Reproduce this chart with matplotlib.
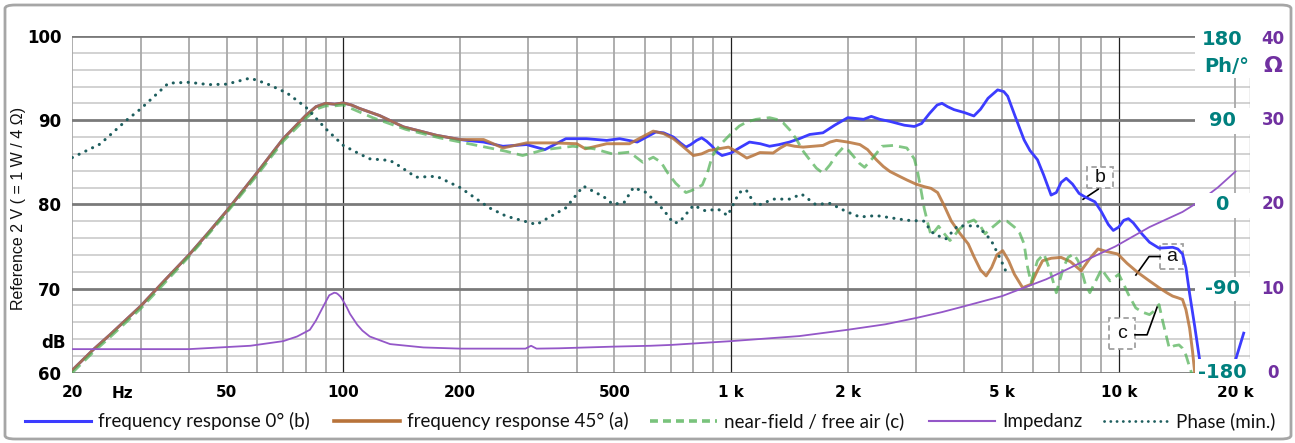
import matplotlib
matplotlib.use("Agg")
import matplotlib.pyplot as plt
from matplotlib.lines import Line2D
from matplotlib.patches import Rectangle, FancyBboxPatch
import matplotlib.transforms as mtransforms

W, H, DPI = 1295, 443, 100

# ---------------- data ----------------
low_f = [20, 22.6, 25, 30, 35, 40, 45, 50, 60, 70, 80, 85, 90, 95, 100, 105, 110, 124, 143, 161, 174]
low_db = [60.3, 62.7, 64.5, 67.9, 71.2, 74.0, 76.7, 79.2, 83.8, 87.8, 90.55, 91.6, 92.0, 91.9, 92.05, 91.8, 91.4, 90.55, 89.2, 88.6, 88.2]

blue_hi_f = [200, 208, 230, 258, 297, 331, 375, 424, 478, 516, 573, 640, 670, 710, 740, 765, 787, 815, 840, 865, 894,
             920, 948, 1000, 1050, 1116, 1190, 1257, 1330, 1415, 1500, 1595, 1726, 1850, 2000, 2100, 2196, 2300,
             2420, 2570, 2800, 2970, 3100, 3250, 3400, 3500, 3620, 3760, 4000, 4230, 4400, 4600, 4870, 5050,
             5170, 5400, 5700, 5900, 6170, 6400, 6690, 6900, 7100, 7320, 7600, 7900, 8170, 8680, 9000, 9400,
             9680, 10000, 10300, 10590, 10900, 11470, 12000, 12700, 13300, 13770, 14200, 14600, 14900, 15230,
             15700, 16170, 17000, 19300, 20000, 21000]
blue_hi_db = [87.7, 87.6, 87.4, 86.9, 87.1, 86.5, 87.8, 87.8, 87.6, 87.8, 87.4, 88.6, 88.5, 88.0, 87.3, 86.8, 87.1, 87.6, 87.9, 87.5, 86.9,
              86.2, 85.8, 86.1, 86.7, 87.4, 87.2, 86.9, 87.1, 87.4, 87.8, 88.3, 88.5, 89.4, 90.3, 90.2, 90.1, 90.45,
              90.1, 89.85, 89.4, 89.25, 89.6, 90.8, 91.8, 92.0, 91.6, 91.25, 90.9, 90.5, 91.3, 92.6, 93.6, 93.4,
              92.85, 90.5, 87.65, 86.4, 85.3, 83.5, 81.1, 81.4, 82.6, 83.1, 82.4, 81.3, 80.9, 80.3, 79.2, 77.6,
              76.9, 77.3, 78.1, 78.3, 77.8, 76.5, 75.5, 74.8, 74.85, 74.9, 74.7, 74.1, 72.5, 69.4,
              65.5, 61.5, 54.0, 54.0, 61.5, 64.7]

brown_hi_f = [200, 230, 258, 297, 349, 400, 421, 478, 547, 630, 670, 710, 750, 800, 840, 877, 930, 985, 1040, 1098,
              1140, 1187, 1284, 1340, 1390, 1460, 1534, 1726, 1800, 1870, 2000, 2150, 2250, 2370, 2470, 2570,
              2700, 2840, 3000, 3150, 3280, 3410, 3550, 3700, 3900, 4090, 4230, 4400, 4550, 4700, 4850, 5020,
              5200, 5380, 5650, 5940, 6150, 6360, 6700, 7100, 7500, 8000, 8400, 8840, 9300, 9940, 10500, 11200,
              12000, 12700, 13300, 13770, 14200, 14600, 14900, 15230, 15500, 15700, 16000]
brown_hi_db = [87.7, 87.7, 86.7, 87.3, 87.3, 87.2, 86.6, 87.2, 87.2, 88.7, 88.4, 87.8, 86.9, 85.8, 86.0, 86.4, 86.6, 86.8, 86.2, 85.5,
               85.8, 86.15, 86.1, 86.7, 87.1, 86.9, 86.8, 87.0, 87.4, 87.6, 87.4, 87.1, 86.5, 85.3, 84.5, 83.9,
               83.4, 82.9, 82.4, 82.1, 81.9, 81.4, 79.8, 78.0, 76.5, 75.3, 73.8, 72.2, 71.5, 72.5, 74.0, 74.5,
               73.3, 71.7, 70.1, 70.5, 72.0, 73.3, 73.6, 73.7, 73.2, 72.1, 73.5, 74.7, 74.4, 74.1, 73.0, 71.9,
               70.9, 70.1, 69.5, 69.1, 68.9, 68.7, 67.5, 65.3, 62.5, 60.0, 57.0]

green_f = [20, 22.6, 25, 30, 35, 40, 45, 50, 60, 70, 80, 85, 90, 95, 100, 119, 145, 177, 216, 263, 290, 331, 391,
           443, 494, 547, 592, 630, 660, 685, 720, 765, 787, 843, 870, 894, 920, 948, 1000, 1050, 1100, 1160, 1257,
           1310, 1362, 1420, 1476, 1530, 1595, 1660, 1726, 1800, 1870, 1950, 2010, 2070, 2140, 2210, 2330, 2450,
           2620, 2840, 2970, 3030, 3090, 3150, 3220, 3280, 3350, 3430, 3550, 3670, 3770, 3870, 4050, 4230, 4400,
           4520, 4700, 4960, 5150, 5380, 5550, 5700, 5820, 5940, 6050, 6170, 6410, 6550, 6690, 6900, 7050, 7200,
           7400, 7650, 7850, 8000, 8200, 8420, 8700, 9030, 9250, 9490, 9750, 10000, 10300, 10590, 11060, 11500,
           12000, 12400, 12700, 13000, 13500, 13900, 14300, 14600, 14900, 15200, 15400, 15700]
green_db = [60.0, 62.4, 64.2, 67.6, 70.9, 73.8, 76.5, 79.0, 83.5, 87.5, 90.2, 91.3, 91.7, 91.7, 91.8, 90.3, 88.9, 87.9, 87.1, 86.3, 85.8, 86.5, 86.9,
            86.6, 86.0, 86.2, 85.0, 85.6, 85.0, 83.8, 82.5, 81.4, 81.6, 82.3, 83.8, 85.7, 86.6, 87.3, 88.4, 89.3, 89.8, 90.1, 90.3,
            90.1, 89.7, 88.8, 87.7, 86.4, 85.3, 84.3, 83.7, 84.7, 85.9, 86.8, 86.4, 85.7, 84.9, 84.4, 85.6, 86.9,
            87.0, 86.7, 85.4, 83.8, 81.7, 79.5, 77.7, 76.3, 76.8, 77.4, 76.5, 75.7, 76.3, 77.0, 77.8, 78.15, 77.4,
            76.5, 77.2, 78.1, 78.0, 77.3, 76.6, 75.3, 72.5, 70.7, 72.0, 73.3, 74.1, 73.0, 71.7, 69.5, 71.0, 72.5,
            73.7, 74.1, 73.3, 72.3, 70.5, 69.5, 70.8, 72.3, 71.6, 70.9, 71.3, 71.7, 70.5, 69.3, 67.7, 67.2,
            66.9, 67.4, 68.1, 66.0, 62.9, 63.2, 63.3, 62.9, 62.1, 60.8, 60.0, 58.0]

imp_f = [20, 40, 57.6, 70, 76, 82, 85, 88.6, 90.5, 92, 94.7, 96, 97, 98.5, 100, 102, 104, 108.6, 112, 117, 132, 161,
         200, 295, 305, 315, 360, 500, 620, 700, 1000, 1500, 2000, 2500, 3000, 3500, 4000, 5000, 5700, 6500, 7000,
         8000, 9800, 12000, 14600, 16200, 18000, 20000]
imp_ohm = [2.8, 2.8, 3.2, 3.75, 4.3, 5.1, 6.2, 7.8, 8.6, 9.2, 9.5, 9.45, 9.3, 9.0, 8.5, 7.8, 7.0, 5.7, 5.0, 4.3, 3.4, 3.0,
           2.86, 2.86, 3.2, 2.86, 2.9, 3.1, 3.2, 3.3, 3.75, 4.35, 5.1, 5.75, 6.5, 7.2, 7.9, 9.1, 10.1, 11.1, 11.8,
           13.1, 15.0, 17.3, 19.1, 20.4, 22.0, 23.9]

ph_f = [20, 23.6, 27.6, 30, 35.4, 40, 45, 50, 57.5, 63.5, 71.6, 80, 90, 100, 110, 117, 132, 140, 154, 174, 200,
        238, 263, 315, 375, 416, 470, 496, 530, 560, 604, 670, 710, 736, 800, 859, 925, 980, 1050, 1093, 1160,
        1284, 1415, 1520, 1650, 1800, 1990, 2150, 2370, 2840, 3150, 3280, 3350, 3580, 3840, 4320, 4680, 4960, 5170]
ph_deg = [50, 64.5, 90, 102, 129.6, 130.5, 128, 128.5, 135, 129, 119, 104, 81, 63, 54, 48.7, 46.9, 40.6, 29, 30, 18,
          -3.7, -12.6, -21.6, -3.7, 19.5, 8, 0, 2, 18, 12.7, -6, -20, -19, -1, -7, -5, -12, 12.7, 15.6, -2,
          5.6, 5.6, 11, 0, 1, -8, -13.5, -12, -17, -18, -28.8, -32, -37, -23, -23, -38, -59, -76]

blue_f = low_f + blue_hi_f
blue_db = low_db + blue_hi_db
brown_f = low_f + brown_hi_f
brown_db = low_db + brown_hi_db

xtick_vals = [20, 50, 100, 200, 500, 1000, 2000, 5000, 10000, 20000]
xtick_labels = ["20", "50", "100", "200", "500", "1 k", "2 k", "5 k", "10 k", "20 k"]
ytick_vals = [60, 70, 80, 90, 100]
ph_ticks = [180, 90, 0, -90, -180]
z_ticks = [40, 30, 20, 10, 0]
legend_labels = ["frequency response 0° (b)", "frequency response 45° (a)", "near-field / free air (c)",
                 "Impedanz", "Phase (min.)"]

C_BLUE = "#3c3cff"
C_BROWN = "#b8733a"
C_GREEN = "#4caf50"
C_IMP = "#9457c8"
C_PH = "#1e5e5e"
C_PHLAB = "#00807e"
C_ZLAB = "#7030a0"

# ---------------- figure ----------------
fig = plt.figure(figsize=(W / DPI, H / DPI), dpi=DPI)
fig.patch.set_facecolor("white")

def fx(x):
    return x / W

def fy(y):
    return 1 - y / H

ax_left, ax_right, ax_top, ax_bot = 72.3, 1250, 36.0, 372.7
ax = fig.add_axes([fx(ax_left), fy(ax_bot), (ax_right - ax_left) / W, (ax_bot - ax_top) / H])
ax.set_xscale("log")
ax.set_xlim(20, 21800)
ax.set_ylim(60, 100)
for s in ax.spines.values():
    s.set_visible(False)

# grid
for dec in [10, 100, 1000, 10000]:
    for m in range(1, 10):
        f = dec * m
        if f < 20 or f > 21800:
            continue
        if m == 1:
            ax.axvline(f, color="#202020", lw=0.9, zorder=0.5)
        else:
            ax.axvline(f, color="#a8a8a8", lw=1.3, zorder=0.5)
ax.axvline(21800, color="#b0b0b0", lw=1.0, zorder=0.5)
for v in range(60, 101, 2):
    if v % 10 == 0:
        ax.axhline(v, color="#7a7a7a", lw=2.0, zorder=0.6)
    else:
        ax.axhline(v, color="#cfcfcf", lw=1.3, zorder=0.4)

ax.set_xticks(xtick_vals)
ax.set_xticklabels(xtick_labels, fontfamily="DejaVu Sans", fontweight="bold", fontsize=11)
ax.xaxis.set_minor_locator(matplotlib.ticker.NullLocator())
ax.tick_params(axis="x", length=0, pad=9)
ax.set_yticks(ytick_vals)
ax.set_yticklabels([str(v) for v in ytick_vals], fontfamily="DejaVu Sans", fontweight="bold", fontsize=12)
ax.tick_params(axis="y", length=0, pad=8)

# curves
ax.plot(blue_f, blue_db, color=C_BLUE, lw=2.0, zorder=2, solid_joinstyle="round")
ax.plot(brown_f, brown_db, color=C_BROWN, lw=2.1, alpha=0.85, zorder=2.1, solid_joinstyle="round")
ax.plot(green_f, green_db, color=C_GREEN, lw=2.0, alpha=0.7, ls=(0, (4, 2.2)), zorder=2.2)

ax_z = ax.twinx()
ax_z.set_ylim(0, 40)
ax_z.set_xlim(20, 21800)
ax_z.set_axis_off()
ax_z.plot(imp_f, imp_ohm, color=C_IMP, lw=1.3)

ax_p = ax.twinx()
ax_p.set_ylim(-180, 180)
ax_p.set_xlim(20, 21800)
ax_p.set_axis_off()
ax_p.plot(ph_f, ph_deg, color=C_PH, lw=2.2, ls=(0, (0.05, 2.4)), dash_capstyle="round")

# annotation boxes a / b / c (positions in data coords of the main axis), drawn beneath the curves
fig.canvas.draw()
to_ax = ax.transAxes.inverted()

def add_box(letter, f, v, wpx, hpx):
    cx, cy = ax.transData.transform((f, v))
    (x0, y0) = to_ax.transform((cx - wpx / 2, cy - hpx / 2))
    (x1, y1) = to_ax.transform((cx + wpx / 2, cy + hpx / 2))
    ax.add_patch(Rectangle((x0, y0), x1 - x0, y1 - y0, transform=ax.transAxes,
                           fc="white", ec="#a0a0a0", lw=1.3, ls=(0, (3, 2)), zorder=1.8))
    ax.text((x0 + x1) / 2, (y0 + y1) / 2, letter, transform=ax.transAxes, ha="center", va="center",
            fontfamily="Liberation Sans", fontsize=14, color="#111111", zorder=1.9)

def add_leader(pts):
    ax.plot([p[0] for p in pts], [p[1] for p in pts], color="black", lw=1.2, zorder=1.85)

add_leader([(8850, 81.8), (8090, 80.6)])
add_leader([(12780, 73.8), (11970, 73.8), (11070, 71.6)])
add_leader([(11015, 64.5), (11830, 64.5), (12560, 67.8)])
add_box("b", 8950, 83.2, 26, 21)
add_box("a", 13680, 73.8, 23, 25)
add_box("c", 10200, 64.65, 26, 31)

# white boxes behind the right-hand labels
for (y0, y1) in [(28, 78), (108, 134), (193, 218), (277, 301), (359, 386)]:
    fig.add_artist(Rectangle((fx(1195), fy(y1)), (1253 - 1195) / W, (y1 - y0) / H,
                             transform=fig.transFigure, fc="white", ec="none", zorder=3))

# right-hand labels: phase (teal) and impedance (purple)
blend = mtransforms.blended_transform_factory(fig.transFigure, ax.transData)
lab_db = [99.6, 90, 80, 70, 60]
for lab, v in zip(ph_ticks, lab_db):
    fig.text(fx(1222), v, str(lab), transform=blend, ha="center", va="center",
             fontfamily="DejaVu Sans", fontweight="bold", fontsize=14, color=C_PHLAB, zorder=7)
fig.text(fx(1227), fy(66), "Ph/°", ha="center", va="center",
         fontfamily="DejaVu Sans", fontweight="bold", fontsize=14, color=C_PHLAB, zorder=7)
for lab, v in zip(z_ticks, lab_db):
    fig.text(fx(1273), v, str(lab), transform=blend, ha="center", va="center",
             fontfamily="DejaVu Sans", fontweight="bold", fontsize=12, color=C_ZLAB, zorder=7)
fig.text(fx(1273), fy(66), "Ω", ha="center", va="center",
         fontfamily="DejaVu Sans", fontweight="bold", fontsize=16, color=C_ZLAB, zorder=7)

# axis texts
fig.text(fx(19), fy(208), "Reference 2 V ( = 1 W / 4 Ω)", rotation=90, ha="center", va="center",
         fontfamily="Liberation Sans", fontsize=11.5, color="#111111")
fig.text(fx(53), fy(343), "dB", ha="center", va="center",
         fontfamily="DejaVu Sans", fontweight="bold", fontsize=12, color="black")
fig.text(fx(122), fy(394), "Hz", ha="center", va="center",
         fontfamily="DejaVu Sans", fontweight="bold", fontsize=11, color="black")

# legend (manual)
ly = fy(421)
leg_items = [
    (25, 91, dict(color=C_BLUE, lw=2.2)),
    (334, 400, dict(color=C_BROWN, lw=2.6)),
    (650, 717, dict(color=C_GREEN, lw=2.6, alpha=0.75, ls=(0, (2.2, 1.4)))),
    (929, 995, dict(color=C_IMP, lw=1.5)),
    (1104, 1169, dict(color=C_PH, lw=2.0, ls=(0, (0.05, 2.2)), dash_capstyle="round")),
]
for (x0, x1, st), lab in zip(leg_items, legend_labels):
    fig.add_artist(Line2D([fx(x0), fx(x1)], [ly, ly], transform=fig.transFigure, **st))
    fig.text(fx(x1 + 7), ly, lab, ha="left", va="center", fontfamily="Lato", fontsize=13.5, color="#111111")

# outer rounded border
fig.add_artist(FancyBboxPatch((fx(5), fy(439)), (1291 - 5) / W, (439 - 5) / H,
                              boxstyle="round,pad=0,rounding_size=0.008", transform=fig.transFigure,
                              fc="none", ec="#a6a6a6", lw=2.0, zorder=10))

fig.savefig("out.png", dpi=DPI, facecolor="white")
